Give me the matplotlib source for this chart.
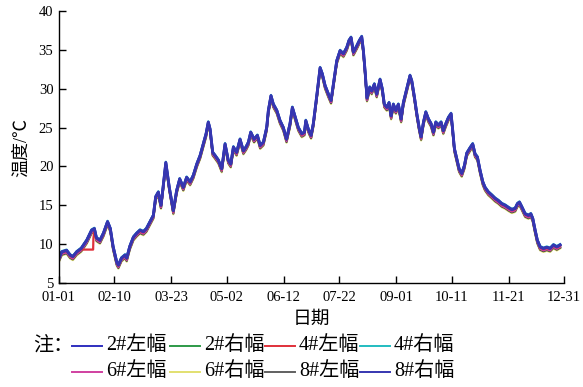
import numpy as np
import matplotlib
matplotlib.use("Agg")
import matplotlib.pyplot as plt
from matplotlib.lines import Line2D

FONT = ["Liberation Serif", "Noto Sans CJK SC", "DejaVu Sans"]
plt.rcParams["font.family"] = FONT

# ---- data: daily temperature trace (day of year, deg C) ----
days = [0, 2, 5.5, 8, 10, 12.7, 16, 20, 23.5, 25.5, 27, 29.5, 32, 35, 37, 39,
        41.6, 42.8, 45, 47.6, 48.8, 51, 53.6, 56, 58.4, 60.8, 63, 65.6, 68,
        69.7, 71.6, 73.5, 74.5, 77, 79.5, 82.4, 84.8, 87, 89.6, 92, 94.5,
        96.8, 99.3, 101.7, 104, 106, 107.6, 108.9, 110.8, 112.5, 114.9, 117.3,
        119.7, 122, 123.8, 125.7, 128, 130.5, 132.9, 134.8, 136.5, 138.2,
        140.6, 143, 145, 147.3, 149.7, 150.9, 152.8, 154.5, 157, 159.3, 161.7,
        164, 166.5, 168.2, 170, 172.5, 175, 176.9, 177.9, 179.7, 181.7, 183.3,
        185.8, 188.2, 189.8, 191.8, 194.2, 196.1, 197.8, 200.2, 202.6, 205,
        207.4, 209, 210.5, 212.2, 214.6, 216.5, 218.2, 219.4, 220.6, 222, 224,
        225.4, 227.3, 229, 231.4, 233, 234.5, 236.3, 237.9, 239.4, 241, 242.8,
        244.6, 246.6, 248.2, 250.7, 253, 254.3, 256.2, 257.9, 259.6, 261,
        262.7, 264.4, 266.3, 268.2, 269.9, 271.6, 273.5, 275.4, 277, 278.8,
        280.7, 282.6, 283.6, 285, 286.7, 288.4, 290.3, 292.2, 293.9, 296.3,
        298.2, 299.9, 301.6, 303.5, 305.5, 307.1, 309.5, 312, 314.3, 316.7,
        319.2, 321.6, 324, 326.4, 328.8, 330.4, 331.9, 333.6, 336, 338.4,
        340.1, 341.5, 343.2, 344.8, 346.8, 349.2, 351.6, 354, 356.4, 358.8,
        361.2]
temps = [8.2, 9.0, 9.2, 8.6, 8.4, 9.0, 9.45, 10.5, 11.8, 12.0, 10.8, 10.5,
         11.4, 12.9, 12.0, 9.7, 7.7, 7.3, 8.2, 8.6, 8.2, 9.7, 10.9, 11.4, 11.8,
         11.6, 12.0, 12.9, 13.7, 16.1, 16.7, 15.0, 16.5, 20.5, 17.3, 14.3,
         16.9, 18.4, 17.3, 18.6, 18.0, 18.85, 20.3, 21.4, 22.9, 24.2, 25.7,
         24.8, 21.8, 21.4, 20.8, 19.7, 22.9, 20.8, 20.3, 22.5, 21.8, 23.5,
         22.0, 22.5, 23.1, 24.4, 23.5, 24.0, 22.7, 23.1, 25.0, 27.2, 29.1,
         28.0, 27.2, 25.9, 25.0, 23.5, 25.5, 27.6, 26.5, 25.0, 24.2, 24.4,
         25.9, 24.8, 24.0, 25.5, 29.1, 32.7, 31.9, 30.4, 29.3, 28.5, 30.6,
         33.6, 34.9, 34.5, 35.3, 36.2, 36.6, 34.7, 35.5, 36.2, 36.7, 34.9,
         32.3, 28.8, 30.2, 29.7, 30.6, 29.3, 31.2, 30.0, 28.0, 27.6, 28.2,
         26.5, 28.0, 27.2, 28.0, 26.1, 28.2, 30.0, 31.7, 31.0, 28.9, 26.8,
         25.0, 23.8, 25.7, 27.0, 26.1, 25.5, 24.4, 25.7, 25.3, 25.7, 24.6,
         25.5, 26.3, 26.8, 25.0, 22.3, 21.0, 19.7, 19.1, 20.1, 21.7, 22.4,
         22.9, 21.6, 21.2, 19.5, 18.0, 17.3, 16.7, 16.3, 15.9, 15.6, 15.2,
         15.0, 14.7, 14.45, 14.6, 15.2, 15.4, 14.8, 13.9, 13.7, 13.9, 13.3,
         11.8, 10.5, 9.65, 9.45, 9.6, 9.45, 9.9, 9.65, 9.9]

# gauge labels and their small systematic differences from the common trace
series_labels = ["2#左幅", "2#右幅", "4#左幅", "4#右幅",
                 "6#左幅", "6#右幅", "8#左幅", "8#右幅"]
series_shift = [0.0, -0.25, -0.1, 0.1, -0.25, -0.45, -0.35, 0.0]

# 4#左幅 has a short stretch of missing readings in January
gap_days = [17.5, 24.6, 24.8]
gap_temps = [9.3, 9.3, 10.7]

tick_days = [0, 40, 81, 121, 162, 202, 243, 283, 324, 364]
tick_labels = ["01-01", "02-10", "03-23", "05-02", "06-12",
               "07-22", "09-01", "10-11", "11-21", "12-31"]

# ---- styles ----
colors = ["#2f2fbf", "#2e9a48", "#e0303a", "#22bcc0",
          "#d040a0", "#e2e070", "#3a3a3a", "#3636b0"]
legend_colors = ["#2f2fbf", "#2e9a48", "#e0303a", "#22bcc0",
                 "#d040a0", "#e2e070", "#606060", "#3636b0"]
draw_order = [5, 6, 1, 4, 2, 3, 0, 7]

W, H = 583, 387
fig = plt.figure(figsize=(W / 100, H / 100), dpi=100)
ax = fig.add_axes([59 / W, 1 - 283 / H, (564 - 59) / W, (283 - 11) / H])

d = np.array(days)
t = np.array(temps)
for i in draw_order:
    x = d
    y = t + series_shift[i]
    if i == 2:
        before = d < gap_days[0]
        after = d > gap_days[-1]
        x = np.concatenate([d[before], gap_days, d[after]])
        y = np.concatenate([t[before] + series_shift[i], gap_temps,
                            t[after] + series_shift[i]])
    lw = 2.0 if i in (0, 7) else 1.6
    ax.plot(x, y, color=colors[i], lw=lw, solid_joinstyle="round")

ax.set_xlim(0, 364)
ax.set_ylim(5, 40)
ax.set_xticks(tick_days)
ax.set_xticklabels(tick_labels)
ax.set_yticks(np.arange(5, 41, 5))
for s in ("top", "right"):
    ax.spines[s].set_visible(False)
for s in ("left", "bottom"):
    ax.spines[s].set_linewidth(1.0)
ax.tick_params(direction="in", length=5, width=1.0, labelsize=10.5)
ax.tick_params(axis="x", pad=6)
ax.tick_params(axis="y", pad=4)
for lab in ax.get_xticklabels() + ax.get_yticklabels():
    lab.set_family(FONT)

ax.set_ylabel("温度/℃", fontsize=13, family=FONT, labelpad=6)
ax.set_xlabel("日期", fontsize=13.5, family=FONT, labelpad=5)

# ---- legend row layout ----
def fx(px):
    return px / W

def fy(py):
    return 1 - py / H

fig.text(fx(33), fy(346), "注：", fontsize=14.5, family=FONT,
         va="center", ha="left")
col_x = [72, 170, 265, 360]
row_y = [346, 372]
for k, lab in enumerate(series_labels):
    r, c = divmod(k, 4)
    x0 = col_x[c]
    fig.add_artist(Line2D([fx(x0), fx(x0 + 30)], [fy(row_y[r])] * 2,
                          color=legend_colors[k], lw=1.4,
                          transform=fig.transFigure))
    fig.text(fx(x0 + 34), fy(row_y[r]), lab, fontsize=14.5, family=FONT,
             va="center", ha="left")

fig.savefig("out.png", dpi=100, facecolor="white")
